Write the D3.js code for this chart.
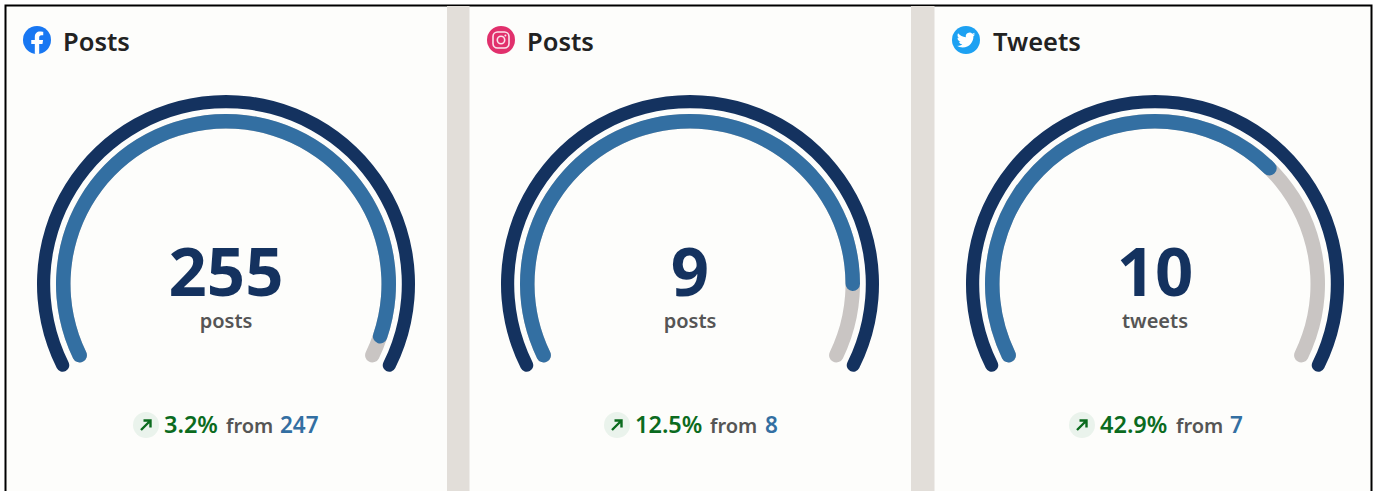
<!DOCTYPE html>
<html><head><meta charset="utf-8">
<script src="https://cdn.jsdelivr.net/npm/d3@7"></script>
<style>
html,body{margin:0;padding:0;background:#fff;}
svg{display:block;}
text{font-family:"Noto Sans","Open Sans",sans-serif;}
</style></head><body>
<svg id="c" width="1373" height="491"></svg>
<script>
const titles = ["Posts","Posts","Tweets"];
const platforms = ["facebook","instagram","twitter"];
const values = [255,9,10];
const maxima = [263,10.11,14.3];
const units = ["posts","posts","tweets"];
const changes = ["3.2%","12.5%","42.9%"];
const previous = [247,8,7];

const W=1373,H=491;
const svg=d3.select("#c");
const centers=[226,690,1155];
const cy=284;
const maxAngle=118.5*Math.PI/180;

svg.append("rect").attr("x",6).attr("y",6).attr("width",W-8).attr("height",H).attr("fill","#fdfdfb");
svg.append("path").attr("d",`M5.5 ${H}V5.5H${W-1.5}V${H}`).attr("fill","none").attr("stroke","#000").attr("stroke-width",2);
[[447,22.5],[911,23.5]].forEach(d=>svg.append("rect").attr("x",d[0]).attr("y",6).attr("width",d[1]).attr("height",H).attr("fill","#e2ded9"));

const outer=d3.arc().innerRadius(175.8).outerRadius(189).cornerRadius(6.6);
const inner=d3.arc().innerRadius(155.5).outerRadius(170).cornerRadius(7.25);

const icons={
 facebook(g){
  g.append("circle").attr("r",14).attr("fill","#1877f2");
  g.append("path").attr("transform","translate(-14,-14) scale(1.1667)").attr("fill","#fff")
   .attr("d","M16.671 15.469L17.203 12H13.875V9.75c0-.949.465-1.875 1.956-1.875h1.513V4.922s-1.374-.234-2.686-.234c-2.741 0-4.533 1.661-4.533 4.668V12H7.078v3.469h3.047v8.385a12.1 12.1 0 003.75 0v-8.385z");
 },
 instagram(g){
  g.append("circle").attr("r",14).attr("fill","#e1306c");
  g.append("rect").attr("x",-8).attr("y",-8).attr("width",16).attr("height",16).attr("rx",4.5).attr("fill","none").attr("stroke","#fbe3ec").attr("stroke-width",1.6);
  g.append("circle").attr("r",3.7).attr("fill","none").attr("stroke","#fbe3ec").attr("stroke-width",1.6);
  g.append("circle").attr("cx",4.4).attr("cy",-4.4).attr("r",1).attr("fill","#fbe3ec");
 },
 twitter(g){
  g.append("circle").attr("r",14).attr("fill","#1da1f2");
  g.append("path").attr("transform","translate(-9.2,-9.2) scale(.77)").attr("fill","#fff")
   .attr("d","M23.953 4.57a10 10 0 01-2.825.775 4.958 4.958 0 002.163-2.723c-.951.555-2.005.959-3.127 1.184a4.92 4.92 0 00-8.384 4.482C7.69 8.095 4.067 6.13 1.64 3.162a4.822 4.822 0 00-.666 2.475c0 1.71.87 3.213 2.188 4.096a4.904 4.904 0 01-2.228-.616v.06a4.923 4.923 0 003.946 4.827 4.996 4.996 0 01-2.212.085 4.936 4.936 0 004.604 3.417 9.867 9.867 0 01-6.102 2.105c-.39 0-.779-.023-1.17-.067a13.995 13.995 0 007.557 2.209c9.053 0 13.998-7.496 13.998-13.985 0-.21 0-.42-.015-.63A9.935 9.935 0 0024 4.59z");
 }
};
const iconX=[37,501,966], titleX=[63,527,993];
const footerX=[[146,164,226,280],[617,635,710,765],[1082,1100,1176,1230]];

values.forEach((v,i)=>{
  const g=svg.append("g");
  icons[platforms[i]](g.append("g").attr("transform",`translate(${iconX[i]},40)`));
  g.append("text").attr("x",titleX[i]).attr("y",51).attr("font-size",25.5).attr("font-weight",600).attr("fill","#222").text(titles[i]);

  const a=d3.scaleLinear().domain([0,maxima[i]]).range([-maxAngle,maxAngle]);
  const gauge=g.append("g").attr("transform",`translate(${centers[i]},${cy})`);
  gauge.append("path").attr("fill","#14325f").attr("d",outer({startAngle:a(0),endAngle:a(maxima[i])}));
  gauge.append("path").attr("fill","#c9c5c3").attr("d",inner({startAngle:a(0),endAngle:a(maxima[i])}));
  gauge.append("path").attr("fill","#336fa2").attr("d",inner({startAngle:a(0),endAngle:a(v)}));
  gauge.append("text").attr("text-anchor","middle").attr("y",11.5).attr("font-size",67).attr("font-weight",700).attr("fill","#14325f").text(v);
  gauge.append("text").attr("text-anchor","middle").attr("y",44).attr("font-size",20).attr("font-weight",600).attr("fill","#555").text(units[i]);

  const fx=footerX[i];
  g.append("circle").attr("cx",fx[0]).attr("cy",425).attr("r",13).attr("fill","#eaf3ec");
  g.append("path").attr("transform",`translate(${fx[0]},425)`).attr("fill","none").attr("stroke","#0b6b1e").attr("stroke-width",2.4)
    .attr("d","M-5 5L4.5 -4.5M-2.5 -4.5H4.5V2.5");
  g.append("text").attr("x",fx[1]).attr("y",433).attr("font-size",23.5).attr("font-weight",600).attr("fill","#0b6b1e").text(changes[i]);
  g.append("text").attr("x",fx[2]).attr("y",433).attr("font-size",20).attr("font-weight",600).attr("fill","#555").text("from");
  g.append("text").attr("x",fx[3]).attr("y",433).attr("font-size",22.5).attr("font-weight",600).attr("fill","#336fa2").text(previous[i]);
});
</script>
</body></html>
